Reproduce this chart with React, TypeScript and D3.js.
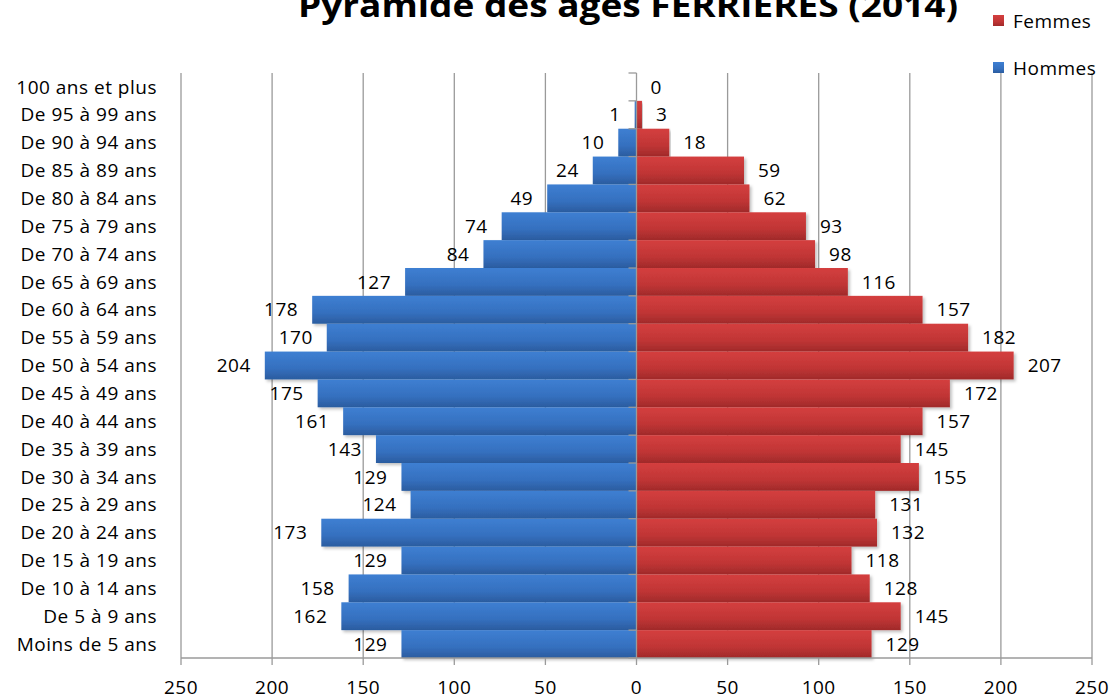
import React from "react";
import * as d3 from "d3";

const categories = [
  "100 ans et plus", "De 95 à 99 ans", "De 90 à 94 ans", "De 85 à 89 ans", "De 80 à 84 ans",
  "De 75 à 79 ans", "De 70 à 74 ans", "De 65 à 69 ans", "De 60 à 64 ans", "De 55 à 59 ans",
  "De 50 à 54 ans", "De 45 à 49 ans", "De 40 à 44 ans", "De 35 à 39 ans", "De 30 à 34 ans",
  "De 25 à 29 ans", "De 20 à 24 ans", "De 15 à 19 ans", "De 10 à 14 ans", "De 5 à 9 ans",
  "Moins de 5 ans",
];
const hommes: (number | null)[] = [null, 1, 10, 24, 49, 74, 84, 127, 178, 170, 204, 175, 161, 143, 129, 124, 173, 129, 158, 162, 129];
const femmes: number[] = [0, 3, 18, 59, 62, 93, 98, 116, 157, 182, 207, 172, 157, 145, 155, 131, 132, 118, 128, 145, 129];
const ticks = [-250, -200, -150, -100, -50, 0, 50, 100, 150, 200, 250];
const title = "Pyramide des âges FERRIÈRES (2014)";

export default function App() {
  const W = 1112, H = 699;
  const x = d3.scaleLinear().domain([-250, 250]).range([181, 1092]);
  const y = d3.scaleBand<string>().domain(categories).range([73, 658]).padding(0);
  const bw = y.bandwidth();
  const x0 = x(0);
  const font = "'Open Sans', Lato, sans-serif";
  const fs = 19;
  const ls = 0.5;
  const grid = "#9a9a9a";
  return (
    <svg width={W} height={H} style={{ position: "absolute", left: 0, top: 0, background: "#fff" }} fontFamily={font}>
      <defs>
        <linearGradient id="gBlue" x1="0" y1="0" x2="0" y2="1">
          <stop offset="0" stopColor="#3e7fd2" />
          <stop offset="0.6" stopColor="#3570bf" />
          <stop offset="1" stopColor="#2b5c9f" />
        </linearGradient>
        <linearGradient id="gRed" x1="0" y1="0" x2="0" y2="1">
          <stop offset="0" stopColor="#d43f3f" />
          <stop offset="0.6" stopColor="#c03535" />
          <stop offset="1" stopColor="#a02a2a" />
        </linearGradient>
        <filter id="sh" x="-5%" y="-20%" width="110%" height="150%">
          <feDropShadow dx="2" dy="2" stdDeviation="1.5" floodColor="#000" floodOpacity="0.25" />
        </filter>
      </defs>
      <text x={628} y={17} textAnchor="middle" fontSize={32} fontWeight="bold" fill="#000"
        textLength={660} lengthAdjust="spacingAndGlyphs">{title}</text>
      {/* gridlines */}
      {ticks.filter(t => t !== 0).map(t => (
        <line key={"g" + t} x1={x(t)} x2={x(t)} y1={73} y2={658} stroke={grid} strokeWidth={1.3} />
      ))}
      {/* bars */}
      {categories.map((c, i) => {
        const h = hommes[i];
        const f = femmes[i];
        const yy = y(c)!;
        return (
          <g key={c}>
            {h !== null && h > 0 && (
              <rect x={x(-h)} y={yy} width={x0 - x(-h)} height={bw} fill="url(#gBlue)" filter="url(#sh)" />
            )}
            {f > 0 && (
              <rect x={x0} y={yy} width={x(f) - x0} height={bw} fill="url(#gRed)" filter="url(#sh)" />
            )}
          </g>
        );
      })}
      {/* x axis */}
      <line x1={x(-250)} x2={x(250)} y1={658} y2={658} stroke={grid} strokeWidth={1.3} />
      {ticks.map(t => (
        <g key={"t" + t}>
          <line x1={x(t)} x2={x(t)} y1={658} y2={665} stroke={grid} strokeWidth={1.3} />
          <text x={x(t)} y={694} textAnchor="middle" fontSize={fs} letterSpacing={ls} fill="#000">{Math.abs(t)}</text>
        </g>
      ))}
      {/* y axis */}
      <line x1={x0} x2={x0} y1={73} y2={658} stroke={grid} strokeWidth={1.3} />
      {d3.range(categories.length + 1).map(i => (
        <line key={"yt" + i} x1={x0 - 8} x2={x0} y1={73 + i * bw} y2={73 + i * bw} stroke={grid} strokeWidth={1.3} />
      ))}
      {categories.map(c => (
        <text key={"l" + c} x={157} y={y(c)! + bw / 2} dy="0.35em" textAnchor="end" fontSize={fs} letterSpacing={ls} fill="#000">{c}</text>
      ))}
      {/* value labels */}
      {categories.map((c, i) => {
        const h = hommes[i];
        const f = femmes[i];
        const cy = y(c)! + bw / 2;
        return (
          <g key={"v" + c}>
            {h !== null && (
              <text x={x(-h) - 14} y={cy} dy="0.35em" textAnchor="end" fontSize={fs} letterSpacing={ls} fill="#000">{h}</text>
            )}
            <text x={x(f) + 14} y={cy} dy="0.35em" textAnchor="start" fontSize={fs} letterSpacing={ls} fill="#000">{f}</text>
          </g>
        );
      })}
      {/* legend */}
      <rect x={993} y={15} width={11} height={11} fill="url(#gRed)" />
      <text x={1013} y={21} dy="0.35em" fontSize={fs} letterSpacing={ls} fill="#000">Femmes</text>
      <rect x={993} y={62} width={11} height={11} fill="url(#gBlue)" />
      <text x={1013} y={68} dy="0.35em" fontSize={fs} letterSpacing={ls} fill="#000">Hommes</text>
    </svg>
  );
}
